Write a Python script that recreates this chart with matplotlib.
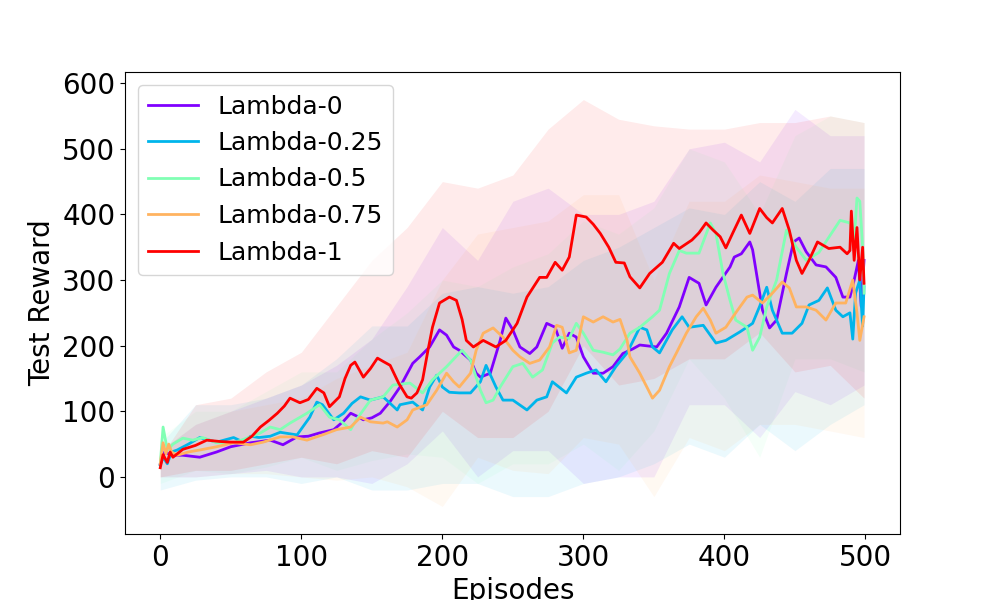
import numpy as np
import matplotlib.pyplot as plt

labels = ['Lambda-0', 'Lambda-0.25', 'Lambda-0.5', 'Lambda-0.75', 'Lambda-1']

# smoothed test reward (episode, value)
ep0 = [0, 3, 8, 16, 28, 40, 50, 64, 78, 87, 97, 105, 113, 123, 130, 135, 140, 144, 150, 156, 163, 170, 179, 184, 191,
       198, 203, 208, 212, 220, 224, 227, 234, 241, 245, 250, 255, 262, 267, 274, 280, 285, 290, 295, 300, 307, 314, 321,
       328, 335, 340, 352, 359, 368, 375, 382, 387, 394, 404, 407, 412, 418, 420, 427, 432, 437, 444, 449, 453, 458, 465,
       472, 479, 484, 489, 492, 495, 497, 499]
r0 = [20, 38, 33, 33, 30, 38, 46, 52, 56, 49, 61, 62, 67, 72, 85, 97, 92, 87, 90, 97, 115, 137, 173, 183, 198,
      224, 216, 198, 193, 178, 158, 152, 158, 208, 242, 224, 198, 188, 198, 234, 228, 196, 219, 213, 183, 158, 158, 168,
      188, 195, 201, 198, 219, 259, 304, 295, 262, 289, 320, 335, 340, 358, 346, 254, 227, 239, 310, 358, 364, 343, 323,
      320, 304, 274, 274, 300, 330, 260, 330]

ep25 = [0, 2, 5, 8, 12, 20, 28, 40, 52, 59, 64, 70, 78, 85, 97, 106, 111, 115, 123, 130, 136, 142, 149, 158, 163, 168,
        170, 179, 186, 191, 196, 200, 205, 212, 220, 227, 231, 238, 243, 250, 260, 267, 274, 278, 288, 295, 302, 309, 316,
        323, 331, 340, 345, 349, 354, 363, 370, 375, 385, 394, 401, 411, 420, 425, 430, 434, 441, 448, 455, 460, 467, 473,
        479, 484, 489, 491, 493, 496, 498, 499]
r25 = [18, 30, 20, 38, 41, 50, 60, 53, 60, 53, 62, 60, 62, 68, 64, 91, 114, 110, 87, 97, 112, 122, 117, 122, 112, 102,
       110, 114, 102, 137, 155, 137, 129, 128, 128, 145, 170, 137, 117, 117, 102, 117, 122, 145, 128, 152, 158, 163, 145,
       168, 189, 228, 224, 198, 189, 224, 244, 228, 231, 204, 208, 221, 234, 260, 289, 254, 219, 219, 234, 262, 269, 288,
       254, 244, 250, 210, 280, 300, 230, 290]

ep50 = [0, 2, 5, 9, 16, 23, 30, 40, 52, 64, 71, 78, 85, 92, 104, 113, 120, 127, 135, 139, 149, 158, 165, 177, 186, 193,
        203, 214, 220, 227, 231, 236, 241, 250, 257, 264, 271, 278, 283, 290, 295, 300, 307, 314, 321, 326, 333, 340, 349,
        354, 361, 368, 373, 382, 390, 394, 399, 404, 408, 416, 420, 425, 430, 437, 444, 451, 458, 467, 474, 482, 489, 492,
        494, 496, 498, 499]
r50 = [20, 76, 41, 50, 59, 56, 60, 52, 52, 61, 67, 76, 72, 82, 97, 110, 91, 87, 72, 87, 117, 122, 140, 143, 128, 148,
       168, 193, 178, 132, 113, 117, 137, 168, 173, 152, 163, 204, 213, 211, 234, 219, 193, 190, 186, 195, 219, 228, 244,
       254, 310, 345, 341, 341, 387, 371, 310, 269, 239, 228, 193, 213, 259, 300, 376, 350, 330, 342, 365, 391, 387, 360,
       425, 420, 350, 280]

ep75 = [0, 2, 4, 6, 8, 12, 20, 28, 40, 52, 64, 73, 85, 94, 104, 115, 125, 135, 142, 149, 158, 161, 168, 175, 179, 189,
        196, 203, 208, 212, 220, 224, 229, 236, 243, 250, 255, 262, 269, 276, 281, 285, 290, 295, 300, 307, 314, 321, 326,
        331, 333, 340, 345, 349, 354, 361, 366, 373, 380, 385, 390, 394, 401, 408, 416, 420, 427, 434, 441, 446, 451, 458,
        465, 472, 479, 486, 491, 494, 496, 499]
r75 = [20, 52, 35, 50, 38, 33, 38, 41, 46, 52, 49, 53, 61, 61, 56, 64, 72, 76, 91, 84, 82, 84, 76, 87, 102, 110,
       132, 158, 145, 137, 158, 193, 219, 227, 213, 193, 183, 173, 178, 198, 231, 228, 189, 193, 244, 236, 244, 236, 240,
       208, 183, 158, 137, 120, 132, 168, 189, 219, 244, 257, 239, 219, 228, 250, 274, 277, 265, 280, 297, 288, 259, 259,
       254, 239, 265, 265, 300, 250, 208, 244]

ep1 = [0, 2, 5, 7, 9, 16, 25, 33, 42, 50, 59, 65, 71, 77, 83, 88, 92, 99, 105, 111, 116, 120, 127, 131, 135, 138, 144,
       149, 154, 158, 163, 169, 175, 178, 182, 186, 190, 193, 198, 205, 210, 214, 217, 222, 229, 238, 245, 253, 260, 269,
       274, 280, 285, 290, 295, 302, 307, 312, 318, 323, 329, 333, 340, 347, 356, 364, 368, 377, 382, 387, 392, 397, 401,
       406, 412, 418, 425, 430, 434, 441, 446, 451, 455, 460, 466, 474, 482, 487, 489, 490, 492, 494, 496, 498, 499]
r1 = [14, 34, 22, 38, 30, 42, 48, 56, 54, 53, 53, 62, 76, 86, 97, 108, 120, 113, 118, 135, 128, 107, 122, 150, 170, 175, 152,
      165, 181, 176, 170, 143, 122, 120, 128, 148, 195, 228, 265, 274, 269, 240, 208, 198, 208, 198, 208, 234, 274, 304,
      304, 327, 315, 335, 399, 396, 385, 371, 350, 327, 326, 305, 288, 310, 327, 356, 348, 361, 372, 387, 376, 366, 349,
      372, 399, 371, 409, 395, 387, 409, 376, 330, 310, 330, 358, 348, 350, 340, 345, 405, 330, 380, 300, 350, 295]

# spread of the runs (lower / upper edge of the shaded band)
band_eps = [0, 25, 50, 75, 100, 125, 150, 175, 200, 225, 250, 275, 300, 325, 350, 375, 400, 425, 450, 475, 499]
lo0 = [0, 0, 5, 10, 0, 0, -10, 20, 70, 0, 40, 40, -10, 0, 0, 110, 110, 60, 130, 110, 140]
hi0 = [40, 80, 100, 120, 140, 170, 210, 290, 380, 330, 420, 440, 400, 400, 420, 500, 510, 480, 560, 520, 520]
lo25 = [-20, -5, 0, 0, -10, 0, -20, -20, -10, -10, -30, -30, -10, 0, 20, 50, 30, 80, 40, 80, 110]
hi25 = [50, 110, 110, 120, 140, 180, 230, 230, 280, 290, 280, 290, 330, 350, 380, 410, 400, 450, 420, 470, 470]
lo50 = [-10, 10, 5, 15, 30, 10, 25, 35, 30, -10, 20, 20, 50, 10, 70, 180, 120, 30, 180, 180, 160]
hi50 = [60, 100, 100, 130, 160, 160, 210, 250, 300, 290, 320, 340, 390, 370, 410, 500, 480, 400, 520, 550, 540]
lo75 = [0, 0, 5, 5, 0, -5, 0, -15, -45, 30, 10, 5, 60, 50, -30, 60, 40, 80, 80, 70, 60]
hi75 = [40, 80, 100, 110, 120, 150, 170, 190, 300, 370, 380, 390, 430, 430, 300, 420, 420, 460, 450, 440, 440]
lo1 = [0, 10, 10, 20, 30, 20, 40, 30, 100, 60, 60, 100, 200, 140, 150, 180, 180, 220, 160, 170, 120]
hi1 = [30, 110, 120, 160, 190, 260, 330, 380, 450, 440, 460, 530, 575, 545, 535, 530, 530, 540, 540, 550, 540]

eps = [ep0, ep25, ep50, ep75, ep1]
rewards = [r0, r25, r50, r75, r1]
lows = [lo0, lo25, lo50, lo75, lo1]
highs = [hi0, hi25, hi50, hi75, hi1]

colors = plt.cm.rainbow(np.linspace(0, 1, 5))

fig = plt.figure(figsize=(10, 6), dpi=100)
for i in range(5):
    plt.fill_between(band_eps, lows[i], highs[i], color=colors[i], alpha=0.08, linewidth=0)
for i in range(5):
    plt.plot(eps[i], rewards[i], color=colors[i], linewidth=2, label=labels[i])

plt.xlim(-25, 524.5)
plt.ylim(-87, 617)
plt.xticks(fontsize=20)
plt.yticks([0, 100, 200, 300, 400, 500, 600], fontsize=20)
plt.xlabel('Episodes', fontsize=20)
plt.ylabel('Test Reward', fontsize=20)
plt.legend(loc='upper left', fontsize=18)
plt.savefig('out.png')
